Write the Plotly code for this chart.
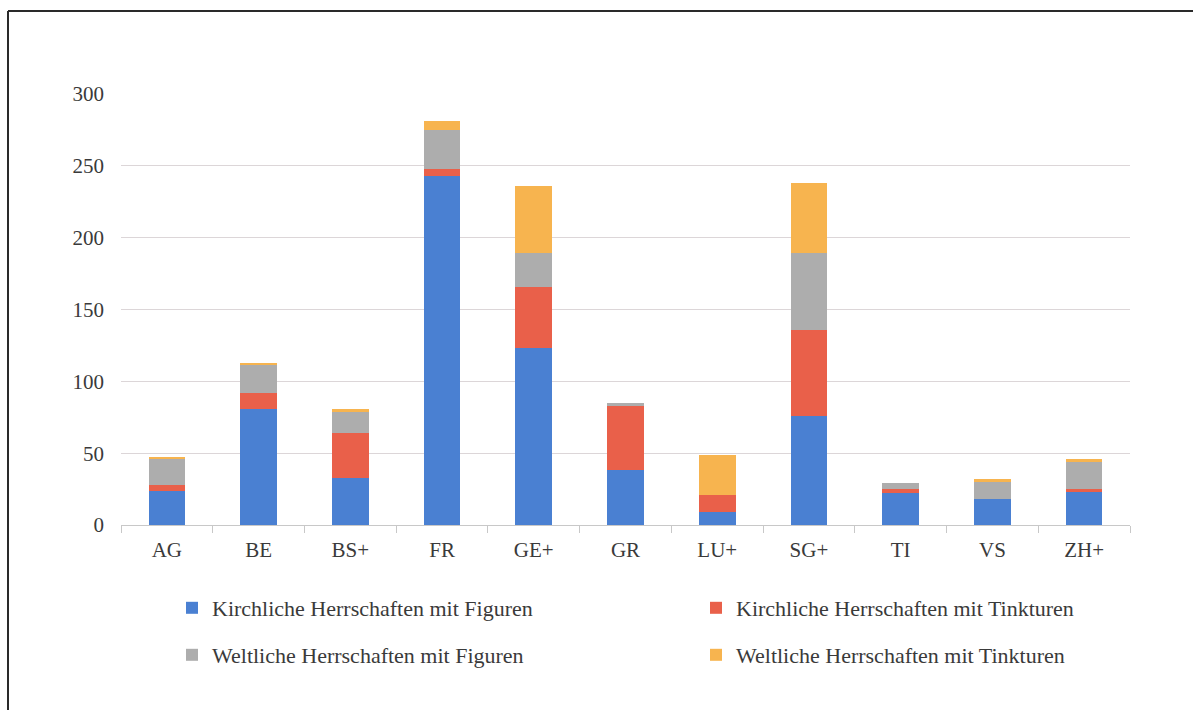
import plotly.graph_objects as go

categories = ["AG", "BE", "BS+", "FR", "GE+", "GR", "LU+", "SG+", "TI", "VS", "ZH+"]
kirch_figuren = [24, 81, 33, 243, 123, 38, 9, 76, 22, 18, 23]
kirch_tinkturen = [4, 11, 31, 5, 43, 45, 12, 60, 3, 0, 2]
welt_figuren = [18, 20, 15, 27, 23, 2, 0, 53, 4, 12, 19]
welt_tinkturen = [1, 1, 2, 6, 47, 0, 28, 49, 0, 2, 2]
y_ticks = [0, 50, 100, 150, 200, 250, 300]

series = [
    ("Kirchliche Herrschaften mit Figuren", kirch_figuren, "#4a80d2"),
    ("Kirchliche Herrschaften mit Tinkturen", kirch_tinkturen, "#e9604a"),
    ("Weltliche Herrschaften mit Figuren", welt_figuren, "#adadad"),
    ("Weltliche Herrschaften mit Tinkturen", welt_tinkturen, "#f7b44f"),
]
legend_ids = ["legend", "legend2", "legend3", "legend4"]
legend_pos = [(172, 608), (696, 608), (172, 655), (696, 655)]

fig = go.Figure()
for (name, vals, col), lg in zip(series, legend_ids):
    fig.add_trace(go.Bar(x=categories, y=vals, name=name, legend=lg,
                         marker=dict(color=col, line=dict(width=0))))

W, H = 1193, 710
L, R, T, B = 121, 1130, 94, 525
pw, ph = R - L, B - T

def px_x(x):
    return (x - L) / pw

def px_y(y):
    return (B - y) / ph

font_family = "Liberation Serif, Times New Roman, serif"
text_col = "#3a3a3a"

def legend_cfg(xpix, ypix):
    return dict(
        orientation="h",
        x=px_x(xpix), y=px_y(ypix), xanchor="left", yanchor="middle",
        font=dict(size=22, color=text_col),
        itemwidth=30,
        bgcolor="rgba(0,0,0,0)",
    )

legends = {lg: legend_cfg(*pos) for lg, pos in zip(legend_ids, legend_pos)}

fig.update_layout(
    width=W, height=H,
    margin=dict(l=L, r=W - R, t=T, b=H - B, autoexpand=False),
    barmode="stack",
    bargap=0.6,
    plot_bgcolor="white",
    paper_bgcolor="white",
    font=dict(family=font_family, size=21, color=text_col),
    showlegend=True,
    xaxis=dict(
        showline=True, linecolor="#c8c8c8", linewidth=1,
        ticks="outside", tickson="boundaries", ticklen=7, tickcolor="#c8c8c8",
        showgrid=False,
        tickfont=dict(size=21, color=text_col),
        ticklabelstandoff=6,
    ),
    yaxis=dict(
        range=[0, 300], tickvals=y_ticks,
        showline=False, ticks="",
        showgrid=True, gridcolor="#dcd6d8", gridwidth=1,
        zeroline=False,
        tickfont=dict(size=21, color=text_col),
        ticklabelstandoff=16,
    ),
    shapes=[
        dict(type="line", xref="paper", yref="paper",
             x0=px_x(8), x1=px_x(W), y0=px_y(11), y1=px_y(11),
             line=dict(color="#2a2a2a", width=2)),
        dict(type="line", xref="paper", yref="paper",
             x0=px_x(8), x1=px_x(8), y0=px_y(11), y1=px_y(H),
             line=dict(color="#2a2a2a", width=2)),
    ],
    **legends,
)

fig.write_html("out.html", config={"displayModeBar": False},
               post_script="document.body.style.margin='0';document.body.style.overflow='hidden';")
